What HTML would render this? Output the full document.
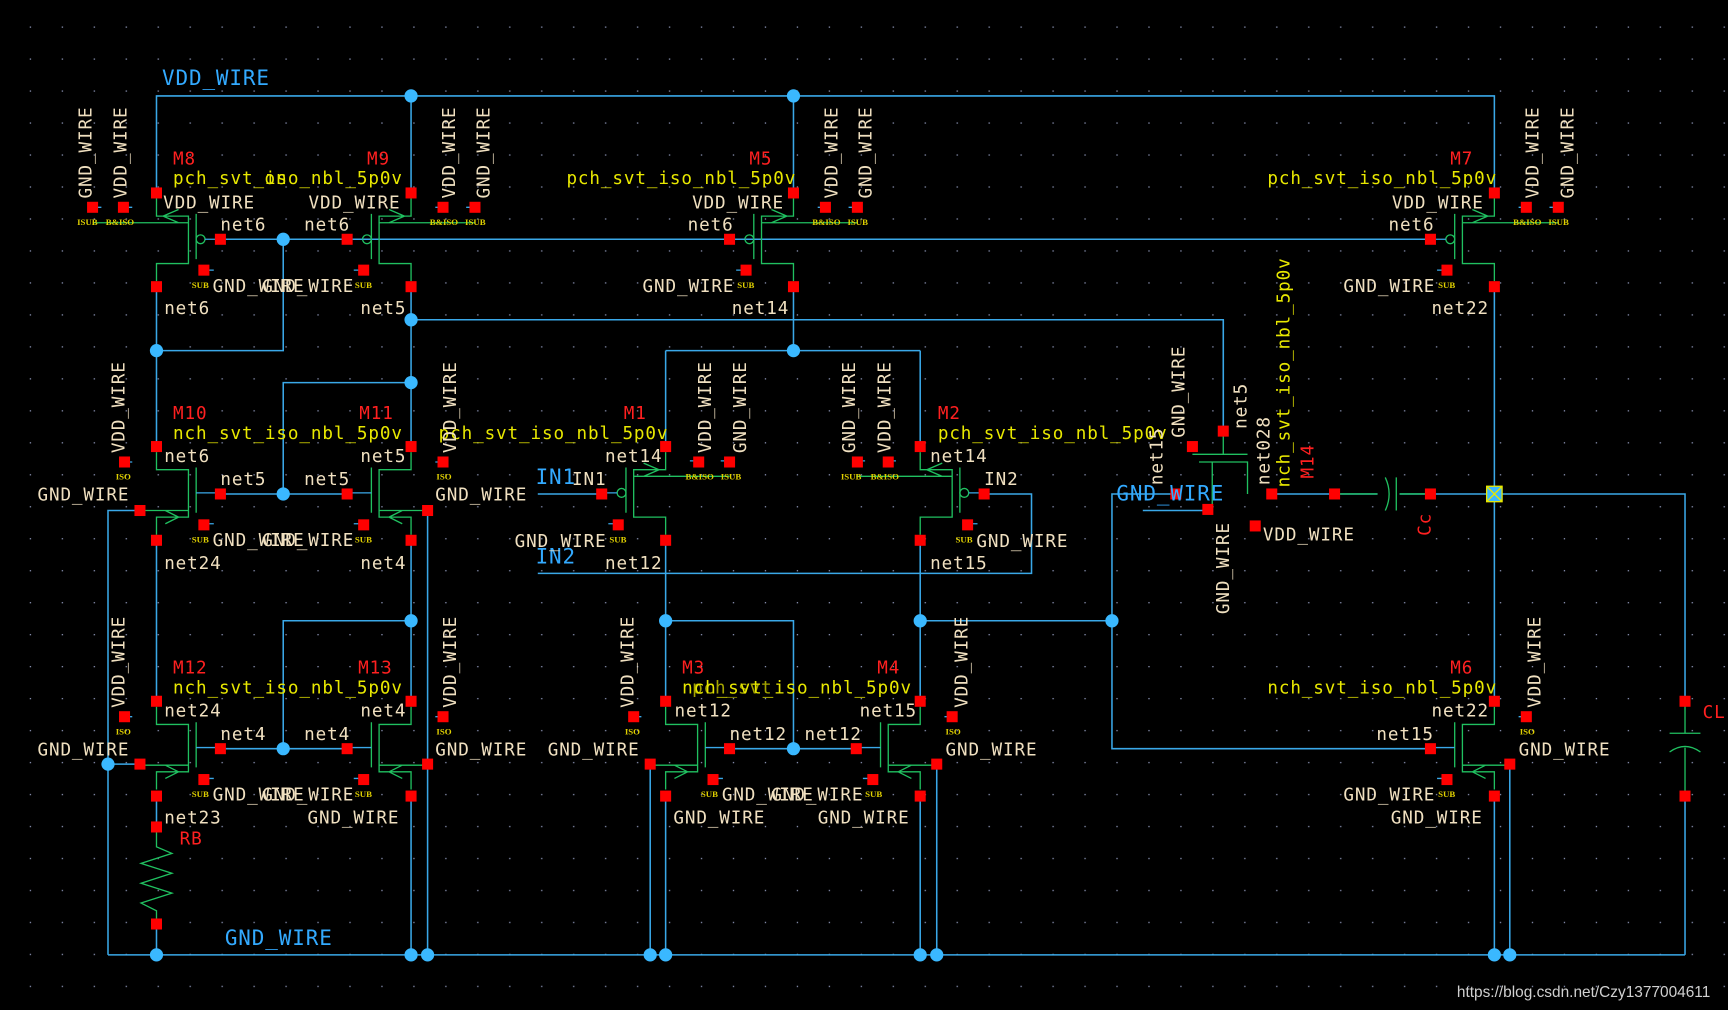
<!DOCTYPE html>
<html><head><meta charset="utf-8"><style>
html,body{margin:0;padding:0;background:#000;}
svg{display:block}
text{font-family:"DejaVu Sans Mono","Liberation Mono",monospace;font-size:16px;letter-spacing:0.8px}
.c{fill:#f0e0c0}.y{fill:#e8e800}.r{fill:#ff2020}.b{fill:#33aaff;font-size:19px}
.t{font-family:"Liberation Serif",serif;font-weight:bold;font-size:8px;fill:#e0d000;letter-spacing:0}
</style></head><body>
<svg width="1728" height="1010" viewBox="0 0 1568 916" preserveAspectRatio="none" xmlns="http://www.w3.org/2000/svg">
<defs>
<pattern id="g" x="0" y="0" width="29" height="29" patternUnits="userSpaceOnUse"><rect x="27" y="24" width="1.2" height="1.2" fill="#8890b0"/></pattern>
<g id="p">
<path d="M0,5V21H29V64H0V80M36,19V60M-58,27H29M6,21L20,15M6,21L20,27" fill="none" stroke="#20c060" stroke-width="1.2"/>
<circle cx="40" cy="42" r="4" fill="none" stroke="#20c060" stroke-width="1.2"/>
<path d="M44,42H58M43,70H52M-58,13H-50M-30,13H-22" stroke="#3aa8e8" stroke-width="1.2"/>
</g>
<g id="n">
<path d="M0,5V21H29V64H0V80M36,19V60M-15,58H29M20,64L8,58M20,64L8,70" fill="none" stroke="#20c060" stroke-width="1.2"/>
<path d="M36,42H58M43,70H52M-29,14H-22" stroke="#3aa8e8" stroke-width="1.2"/>
</g>
</defs>
<rect width="1568" height="916" fill="#000"/>
<rect width="1568" height="916" fill="url(#g)"/>

<g stroke="#3aa8e8" stroke-width="1.4" fill="none">
<path d="M142,175V87H1356V175M373,87V175M720,87V175"/>
<path d="M200,217H1298M257,217V318H142M142,260V405M373,260V405M373,290H1110V391"/>
<path d="M720,260V318M604,318H835M604,318V405M835,318V405M1356,260V636M1356,448H1529V636"/>
<path d="M200,448H316M257,448V347H373M142,490V636M373,490V636"/>
<path d="M200,679H316M257,679V563H373"/>
<path d="M488,448H547M488,520H936V448H893"/>
<path d="M604,490V636M604,563H720V679M662,679H778M835,490V636M835,563H1009V679H1298M1009,563V448H1067"/>
<path d="M98,866H1529M127,463H98V866M127,693H98M142,722V750M142,838V866M373,722V866M388,463V866"/>
<path d="M590,693V866M604,722V866M835,722V866M850,693V866M1356,722V866M1370,693V866M1529,722V866"/>
<path d="M1154,448H1250M1270,448H1356M1037,463H1096M1110,290V391"/>
</g>
<use href="#p" transform="translate(142,175)"/>
<use href="#p" transform="translate(373,175) scale(-1,1)"/>
<use href="#p" transform="translate(720,175) scale(-1,1)"/>
<use href="#p" transform="translate(1356,175) scale(-1,1)"/>
<use href="#n" transform="translate(142,405)"/>
<use href="#n" transform="translate(373,405) scale(-1,1)"/>
<use href="#p" transform="translate(604,405) scale(-1,1)"/>
<use href="#p" transform="translate(835,405)"/>
<use href="#n" transform="translate(142,636)"/>
<use href="#n" transform="translate(373,636) scale(-1,1)"/>
<use href="#n" transform="translate(604,636)"/>
<use href="#n" transform="translate(835,636) scale(-1,1)"/>
<use href="#n" transform="translate(1356,636) scale(-1,1)"/>
<g fill="none" stroke="#20c060" stroke-width="1.2">
<path d="M142,755V768L156,774L128,783L156,792L128,801L156,810L128,819L142,826V838"/>
<path d="M1082,412H1132M1088,419H1132V448M1100,419V462M1110,391V412"/>
<path d="M1257,433Q1264,448 1257,463M1211,448H1250M1267,433V463M1270,448H1298"/>
<path d="M1515,665H1543M1515,682Q1529,672 1543,682M1529,636V665M1529,678V722"/>
</g>
<g fill="#3ab8ff">
<circle cx="373" cy="87" r="6"/><circle cx="720" cy="87" r="6"/><circle cx="257" cy="217" r="6"/><circle cx="142" cy="318" r="6"/>
<circle cx="373" cy="290" r="6"/><circle cx="720" cy="318" r="6"/><circle cx="257" cy="448" r="6"/><circle cx="373" cy="347" r="6"/>
<circle cx="257" cy="679" r="6"/><circle cx="373" cy="563" r="6"/><circle cx="604" cy="563" r="6"/><circle cx="720" cy="679" r="6"/>
<circle cx="835" cy="563" r="6"/><circle cx="1009" cy="563" r="6"/><circle cx="98" cy="693" r="6"/>
<circle cx="142" cy="866" r="6"/><circle cx="373" cy="866" r="6"/><circle cx="388" cy="866" r="6"/><circle cx="590" cy="866" r="6"/>
<circle cx="604" cy="866" r="6"/><circle cx="835" cy="866" r="6"/><circle cx="850" cy="866" r="6"/><circle cx="1356" cy="866" r="6"/><circle cx="1370" cy="866" r="6"/>
</g>
<g stroke="#e8e800" stroke-width="1.2" fill="#3ab8ff"><rect x="1349" y="441" width="14" height="14"/><path d="M1349,441L1363,455M1363,441L1349,455"/></g>
<g fill="#ff0000" transform="translate(-5,-5)">
<rect x="142" y="175" width="10" height="10"/><rect x="142" y="260" width="10" height="10"/><rect x="200" y="217" width="10" height="10"/><rect x="185" y="245" width="10" height="10"/><rect x="112" y="188" width="10" height="10"/><rect x="84" y="188" width="10" height="10"/>
<rect x="373" y="175" width="10" height="10"/><rect x="373" y="260" width="10" height="10"/><rect x="315" y="217" width="10" height="10"/><rect x="330" y="245" width="10" height="10"/><rect x="402" y="188" width="10" height="10"/><rect x="431" y="188" width="10" height="10"/>
<rect x="720" y="175" width="10" height="10"/><rect x="720" y="260" width="10" height="10"/><rect x="662" y="217" width="10" height="10"/><rect x="677" y="245" width="10" height="10"/><rect x="749" y="188" width="10" height="10"/><rect x="778" y="188" width="10" height="10"/>
<rect x="1356" y="175" width="10" height="10"/><rect x="1356" y="260" width="10" height="10"/><rect x="1298" y="217" width="10" height="10"/><rect x="1313" y="245" width="10" height="10"/><rect x="1385" y="188" width="10" height="10"/><rect x="1414" y="188" width="10" height="10"/>
<rect x="142" y="405" width="10" height="10"/><rect x="142" y="490" width="10" height="10"/><rect x="200" y="448" width="10" height="10"/><rect x="185" y="476" width="10" height="10"/><rect x="113" y="419" width="10" height="10"/><rect x="127" y="463" width="10" height="10"/>
<rect x="373" y="405" width="10" height="10"/><rect x="373" y="490" width="10" height="10"/><rect x="315" y="448" width="10" height="10"/><rect x="330" y="476" width="10" height="10"/><rect x="402" y="419" width="10" height="10"/><rect x="388" y="463" width="10" height="10"/>
<rect x="604" y="405" width="10" height="10"/><rect x="604" y="490" width="10" height="10"/><rect x="546" y="448" width="10" height="10"/><rect x="561" y="476" width="10" height="10"/><rect x="634" y="419" width="10" height="10"/><rect x="662" y="419" width="10" height="10"/>
<rect x="835" y="405" width="10" height="10"/><rect x="835" y="490" width="10" height="10"/><rect x="893" y="448" width="10" height="10"/><rect x="878" y="476" width="10" height="10"/><rect x="806" y="419" width="10" height="10"/><rect x="778" y="419" width="10" height="10"/>
<rect x="142" y="636" width="10" height="10"/><rect x="142" y="722" width="10" height="10"/><rect x="200" y="679" width="10" height="10"/><rect x="185" y="707" width="10" height="10"/><rect x="113" y="650" width="10" height="10"/><rect x="127" y="693" width="10" height="10"/>
<rect x="373" y="636" width="10" height="10"/><rect x="373" y="722" width="10" height="10"/><rect x="315" y="679" width="10" height="10"/><rect x="330" y="707" width="10" height="10"/><rect x="402" y="650" width="10" height="10"/><rect x="388" y="693" width="10" height="10"/>
<rect x="604" y="636" width="10" height="10"/><rect x="604" y="722" width="10" height="10"/><rect x="662" y="679" width="10" height="10"/><rect x="647" y="707" width="10" height="10"/><rect x="575" y="650" width="10" height="10"/><rect x="590" y="693" width="10" height="10"/>
<rect x="835" y="636" width="10" height="10"/><rect x="835" y="722" width="10" height="10"/><rect x="777" y="679" width="10" height="10"/><rect x="792" y="707" width="10" height="10"/><rect x="864" y="650" width="10" height="10"/><rect x="850" y="693" width="10" height="10"/>
<rect x="1356" y="636" width="10" height="10"/><rect x="1356" y="722" width="10" height="10"/><rect x="1298" y="679" width="10" height="10"/><rect x="1313" y="707" width="10" height="10"/><rect x="1385" y="650" width="10" height="10"/><rect x="1370" y="693" width="10" height="10"/>
<rect x="142" y="750" width="10" height="10"/><rect x="142" y="838" width="10" height="10"/><rect x="1211" y="448" width="10" height="10"/><rect x="1298" y="448" width="10" height="10"/>
<rect x="1529" y="636" width="10" height="10"/><rect x="1529" y="722" width="10" height="10"/>
<rect x="1110" y="391" width="10" height="10"/><rect x="1082" y="405" width="10" height="10"/><rect x="1067" y="448" width="10" height="10"/><rect x="1154" y="448" width="10" height="10"/><rect x="1096" y="462" width="10" height="10"/><rect x="1139" y="477" width="10" height="10"/>
</g>
<text class="b" x="147" y="77">VDD_WIRE</text>
<text class="b" x="486" y="439">IN1</text>
<text class="b" x="486" y="511">IN2</text>
<text class="b" x="1013" y="454">GND_WIRE</text>
<text class="b" x="204" y="857">GND_WIRE</text>
<g>
<text class="r" x="157" y="149">M8</text><text class="r" x="333" y="149">M9</text><text class="r" x="680" y="149">M5</text><text class="r" x="1316" y="149">M7</text>
<text class="r" x="157" y="380">M10</text><text class="r" x="326" y="380">M11</text><text class="r" x="566" y="380">M1</text><text class="r" x="851" y="380">M2</text>
<text class="r" x="157" y="611">M12</text><text class="r" x="325" y="611">M13</text><text class="r" x="619" y="611">M3</text><text class="r" x="796" y="611">M4</text><text class="r" x="1316" y="611">M6</text>
<text class="r" x="163" y="766">RB</text><text class="r" x="1545" y="651">CL</text>
<text class="r" transform="translate(1192,434) rotate(-90)">M14</text>
<text class="r" transform="translate(1298,486) rotate(-90)">Cc</text>
</g>
<text class="y" x="157" y="167">pch_svt_iso_nbl_5p0v</text><text class="y" x="240" y="167">on</text>
<text class="y" x="514" y="167">pch_svt_iso_nbl_5p0v</text>
<text class="y" x="1150" y="167">pch_svt_iso_nbl_5p0v</text>
<text class="y" x="157" y="398">nch_svt_iso_nbl_5p0v</text>
<text class="y" x="398" y="398">pch_svt_iso_nbl_5p0v</text>
<text class="y" x="851" y="398">pch_svt_iso_nbl_5p0v</text>
<text class="y" x="157" y="629">nch_svt_iso_nbl_5p0v</text>
<text class="y" x="619" y="629">nch_svt_iso_nbl_5p0v</text><text class="y" x="628" y="629" opacity=".7">pch_svt</text>
<text class="y" x="1150" y="629">nch_svt_iso_nbl_5p0v</text>
<text class="y" transform="translate(1170,442) rotate(-90)">nch_svt_iso_nbl_5p0v</text>
<g>
<text class="c" x="148" y="189">VDD_WIRE</text><text class="c" x="280" y="189">VDD_WIRE</text>
<text class="c" x="200" y="209">net6</text><text class="c" x="276" y="209">net6</text>
<text class="c" x="193" y="265">GND_WIRE</text><text class="c" x="238" y="265">GND_WIRE</text>
<text class="c" x="149" y="285">net6</text><text class="c" x="327" y="285">net5</text>
<text class="c" x="628" y="189">VDD_WIRE</text><text class="c" x="624" y="209">net6</text><text class="c" x="583" y="265">GND_WIRE</text><text class="c" x="664" y="285">net14</text>
<text class="c" x="1263" y="189">VDD_WIRE</text><text class="c" x="1260" y="209">net6</text><text class="c" x="1219" y="265">GND_WIRE</text><text class="c" x="1299" y="285">net22</text>
<text class="c" x="149" y="419">net6</text><text class="c" x="327" y="419">net5</text><text class="c" x="200" y="440">net5</text><text class="c" x="276" y="440">net5</text>
<text class="c" x="34" y="454">GND_WIRE</text><text class="c" x="395" y="454">GND_WIRE</text>
<text class="c" x="193" y="495">GND_WIRE</text><text class="c" x="238" y="495">GND_WIRE</text>
<text class="c" x="149" y="516">net24</text><text class="c" x="327" y="516">net4</text>
<text class="c" x="549" y="419">net14</text><text class="c" x="519" y="440">IN1</text><text class="c" x="467" y="496">GND_WIRE</text><text class="c" x="549" y="516">net12</text>
<text class="c" x="844" y="419">net14</text><text class="c" x="893" y="440">IN2</text><text class="c" x="886" y="496">GND_WIRE</text><text class="c" x="844" y="516">net15</text>
<text class="c" x="149" y="650">net24</text><text class="c" x="327" y="650">net4</text><text class="c" x="200" y="671">net4</text><text class="c" x="276" y="671">net4</text>
<text class="c" x="34" y="685">GND_WIRE</text><text class="c" x="395" y="685">GND_WIRE</text>
<text class="c" x="193" y="726">GND_WIRE</text><text class="c" x="238" y="726">GND_WIRE</text>
<text class="c" x="149" y="747">net23</text><text class="c" x="279" y="747">GND_WIRE</text>
<text class="c" x="612" y="650">net12</text><text class="c" x="780" y="650">net15</text><text class="c" x="662" y="671">net12</text><text class="c" x="730" y="671">net12</text>
<text class="c" x="497" y="685">GND_WIRE</text><text class="c" x="858" y="685">GND_WIRE</text>
<text class="c" x="655" y="726">GND_WIRE</text><text class="c" x="700" y="726">GND_WIRE</text>
<text class="c" x="611" y="747">GND_WIRE</text><text class="c" x="742" y="747">GND_WIRE</text>
<text class="c" x="1299" y="650">net22</text><text class="c" x="1249" y="671">net15</text><text class="c" x="1378" y="685">GND_WIRE</text>
<text class="c" x="1219" y="726">GND_WIRE</text><text class="c" x="1262" y="747">GND_WIRE</text>
<text class="c" x="1146" y="490">VDD_WIRE</text>
<text class="c" transform="translate(83,180) rotate(-90)">GND_WIRE</text><text class="c" transform="translate(115,180) rotate(-90)">VDD_WIRE</text>
<text class="c" transform="translate(413,180) rotate(-90)">VDD_WIRE</text><text class="c" transform="translate(444,180) rotate(-90)">GND_WIRE</text>
<text class="c" transform="translate(760,180) rotate(-90)">VDD_WIRE</text><text class="c" transform="translate(791,180) rotate(-90)">GND_WIRE</text>
<text class="c" transform="translate(1396,180) rotate(-90)">VDD_WIRE</text><text class="c" transform="translate(1428,180) rotate(-90)">GND_WIRE</text>
<text class="c" transform="translate(113,411) rotate(-90)">VDD_WIRE</text><text class="c" transform="translate(414,411) rotate(-90)">VDD_WIRE</text>
<text class="c" transform="translate(645,411) rotate(-90)">VDD_WIRE</text><text class="c" transform="translate(677,411) rotate(-90)">GND_WIRE</text>
<text class="c" transform="translate(776,411) rotate(-90)">GND_WIRE</text><text class="c" transform="translate(808,411) rotate(-90)">VDD_WIRE</text>
<text class="c" transform="translate(113,642) rotate(-90)">VDD_WIRE</text><text class="c" transform="translate(414,642) rotate(-90)">VDD_WIRE</text>
<text class="c" transform="translate(575,642) rotate(-90)">VDD_WIRE</text><text class="c" transform="translate(878,642) rotate(-90)">VDD_WIRE</text>
<text class="c" transform="translate(1398,642) rotate(-90)">VDD_WIRE</text>
<text class="c" transform="translate(1075,397) rotate(-90)">GND_WIRE</text>
<text class="c" transform="translate(1131,389) rotate(-90)">net5</text>
<text class="c" transform="translate(1055,440) rotate(-90)">net15</text>
<text class="c" transform="translate(1152,440) rotate(-90)">net028</text>
<text class="c" transform="translate(1115,557) rotate(-90)">GND_WIRE</text>
</g>
<g>
<text class="t" x="70" y="204">ISUB</text><text class="t" x="96" y="204">B&amp;ISO</text><text class="t" x="390" y="204">B&amp;ISO</text><text class="t" x="422" y="204">ISUB</text>
<text class="t" x="737" y="204">B&amp;ISO</text><text class="t" x="769" y="204">ISUB</text><text class="t" x="1373" y="204">B&amp;ISO</text><text class="t" x="1405" y="204">ISUB</text>
<text class="t" x="174" y="261">SUB</text><text class="t" x="322" y="261">SUB</text><text class="t" x="669" y="261">SUB</text><text class="t" x="1305" y="261">SUB</text>
<text class="t" x="105" y="435">ISO</text><text class="t" x="396" y="435">ISO</text><text class="t" x="174" y="492">SUB</text><text class="t" x="322" y="492">SUB</text>
<text class="t" x="622" y="435">B&amp;ISO</text><text class="t" x="654" y="435">ISUB</text><text class="t" x="763" y="435">ISUB</text><text class="t" x="790" y="435">B&amp;ISO</text>
<text class="t" x="553" y="492">SUB</text><text class="t" x="867" y="492">SUB</text>
<text class="t" x="105" y="666">ISO</text><text class="t" x="396" y="666">ISO</text><text class="t" x="567" y="666">ISO</text><text class="t" x="858" y="666">ISO</text><text class="t" x="1379" y="666">ISO</text>
<text class="t" x="174" y="723">SUB</text><text class="t" x="322" y="723">SUB</text><text class="t" x="636" y="723">SUB</text><text class="t" x="785" y="723">SUB</text><text class="t" x="1305" y="723">SUB</text>
</g>
<text x="1322" y="904" style="font-family:'Liberation Sans',sans-serif;font-size:14px;fill:#d0d0d0;letter-spacing:0">https://blog.csdn.net/Czy1377004611</text>
</svg>
</body></html>
